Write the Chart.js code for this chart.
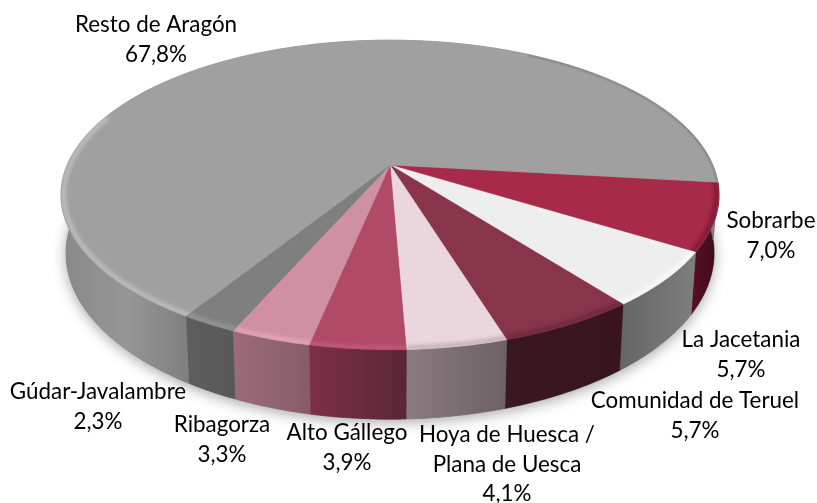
<!DOCTYPE html>
<html lang="es">
<head>
<meta charset="utf-8">
<title>Resto de Aragón</title>
<script src="https://cdn.jsdelivr.net/npm/chart.js@4/dist/chart.umd.min.js"></script>
<style>
  html, body { margin: 0; padding: 0; background: #fff; }
  canvas { display: block; }
</style>
</head>
<body>
<canvas id="pieChart" width="817" height="503"></canvas>
<script>
// --- Data ---
const categories = [
  "Sobrarbe",
  "La Jacetania",
  "Comunidad de Teruel",
  ["Hoya de Huesca /", "Plana de Uesca"],
  "Alto Gállego",
  "Ribagorza",
  "Gúdar-Javalambre",
  "Resto de Aragón"
];
const shares = [7.0, 5.7, 5.7, 4.1, 3.9, 3.3, 2.3, 67.8];

// --- Styles ---
const topColors = ["#a82a49", "#eeeeee", "#88344b", "#ecd6dd", "#b04a66", "#cf90a1", "#7f7f7f", "#a0a0a0"];
// side wall gradient, left to right
const sideColors = [
  ["#541022", "#3c0c18"], ["#666666", "#7e7e7e"], ["#3b171f", "#38141c"], ["#8a7b80", "#6c6165"],
  ["#7c3044", "#5a2636"], ["#9a6c78", "#875c68"], ["#5e5e5e", "#585858"], ["#8a8a8a", "#969696", "#808080"]
];
const rimColors = ["#5e1428", "#ffffff", "#5a2230", "#b09aa2", "#cc6482", "#f2b4c4", "#a2a2a2", "#d0d0d0"];
// centre x and first line centre y of each label
const labelSpots = [[771, 221], [741, 340], [695, 401], [507, 435], [347, 433], [222, 425], [98, 392], [156, 25]];

// --- Projection of the tilted disc (apex, radii, perspective, lower rim) ---
const pie = { cx: 390, cy: 165, a: 322.8, b: 149, persp: 0.1935, shrinkX: 0.985, stretchY: 1.073, drop: 56 };

function project(angle, radius, lower) {
  const u = radius * Math.cos(angle);
  const v = radius * Math.sin(angle);
  const w = 1 - pie.persp * v;
  let x = pie.a * u / w;
  let y = pie.b * v / w;
  if (lower) {
    x *= pie.shrinkX;
    y = y * pie.stretchY + pie.drop;
  }
  return [pie.cx + x, pie.cy + y];
}

function rimPoints(from, to, radius, lower) {
  const steps = Math.max(2, Math.ceil(Math.abs(to - from) / 0.01));
  const pts = [];
  for (let i = 0; i <= steps; i++) {
    pts.push(project(from + (to - from) * i / steps, radius, lower));
  }
  return pts;
}

function tracePath(ctx, pts) {
  ctx.beginPath();
  pts.forEach((p, i) => (i ? ctx.lineTo(p[0], p[1]) : ctx.moveTo(p[0], p[1])));
}

const disc3d = {
  id: "disc3d",
  beforeDatasetsDraw(chart) {
    const ctx = chart.ctx;
    const arcs = chart.getDatasetMeta(0).data;
    const deg = Math.PI / 180;

    // --- Soft shadow under the disc ---
    ctx.save();
    ctx.shadowColor = "rgba(0,0,0,0.35)";
    ctx.shadowBlur = 14;
    ctx.shadowOffsetY = 3;
    ctx.fillStyle = "#808080";
    tracePath(ctx, rimPoints(0, 2 * Math.PI, 1, true));
    ctx.closePath();
    ctx.fill();
    ctx.restore();

    // --- Side wall ---
    arcs.forEach((arc, i) => {
      const from = arc.startAngle;
      const to = arc.endAngle;
      const xRight = project(Math.max(from, 0), 1, false)[0];
      const xLeft = project(Math.min(to, Math.PI), 1, false)[0];
      const grad = ctx.createLinearGradient(xLeft, 0, xRight, 0);
      sideColors[i].forEach((c, n) => grad.addColorStop(n / (sideColors[i].length - 1), c));
      ctx.fillStyle = grad;
      tracePath(ctx, rimPoints(from, to, 1, false).concat(rimPoints(to, from, 1, true)));
      ctx.closePath();
      ctx.fill();
      ctx.strokeStyle = grad;
      ctx.lineWidth = 0.6;
      ctx.stroke();
    });

    // --- Top surface with a bevelled rim ---
    arcs.forEach((arc, i) => {
      const from = arc.startAngle;
      const to = arc.endAngle;
      const outline = [[pie.cx, pie.cy]].concat(rimPoints(from, to, 1, false));
      ctx.fillStyle = topColors[i];
      tracePath(ctx, outline);
      ctx.closePath();
      ctx.fill();
      ctx.strokeStyle = topColors[i];
      ctx.lineWidth = 0.5;
      ctx.stroke();

      ctx.save();
      tracePath(ctx, outline);
      ctx.closePath();
      ctx.clip();
      const rimEnd = Math.min(to, 200 * deg);
      if (rimEnd > from) {
        ctx.filter = "blur(2px)";
        ctx.globalAlpha = 0.85;
        ctx.strokeStyle = rimColors[i];
        ctx.lineWidth = 3.5;
        tracePath(ctx, rimPoints(from - 0.02, rimEnd, 0.992, false));
        ctx.stroke();
      }
      // thin dark edge on the far right of the disc
      if (to > 300 * deg) {
        ctx.filter = "blur(1px)";
        ctx.globalAlpha = 0.8;
        ctx.strokeStyle = "#707070";
        ctx.lineWidth = 2;
        tracePath(ctx, rimPoints(300 * deg, to, 1, false));
        ctx.stroke();
      }
      ctx.restore();
    });

    // --- Labels ---
    ctx.save();
    ctx.font = "22.4px Lato, 'Open Sans', sans-serif";
    ctx.fillStyle = "#000";
    ctx.textAlign = "center";
    ctx.textBaseline = "middle";
    categories.forEach((label, i) => {
      const percent = shares[i].toFixed(1).replace(".", ",") + "%";
      const lines = [].concat(label, percent);
      lines.forEach((line, n) => {
        ctx.fillText(line, labelSpots[i][0], labelSpots[i][1] + n * 29.5);
      });
    });
    ctx.restore();

    return false; // the arcs are drawn above, skip the flat pie
  }
};

new Chart(document.getElementById("pieChart"), {
  type: "pie",
  data: {
    labels: categories.map((c) => [].concat(c).join(" ")),
    datasets: [{ data: shares, backgroundColor: topColors, borderWidth: 0 }]
  },
  options: {
    responsive: false,
    animation: false,
    events: [],
    rotation: 96.5,
    plugins: { legend: { display: false }, tooltip: { enabled: false } }
  },
  plugins: [disc3d]
});
</script>
</body>
</html>
